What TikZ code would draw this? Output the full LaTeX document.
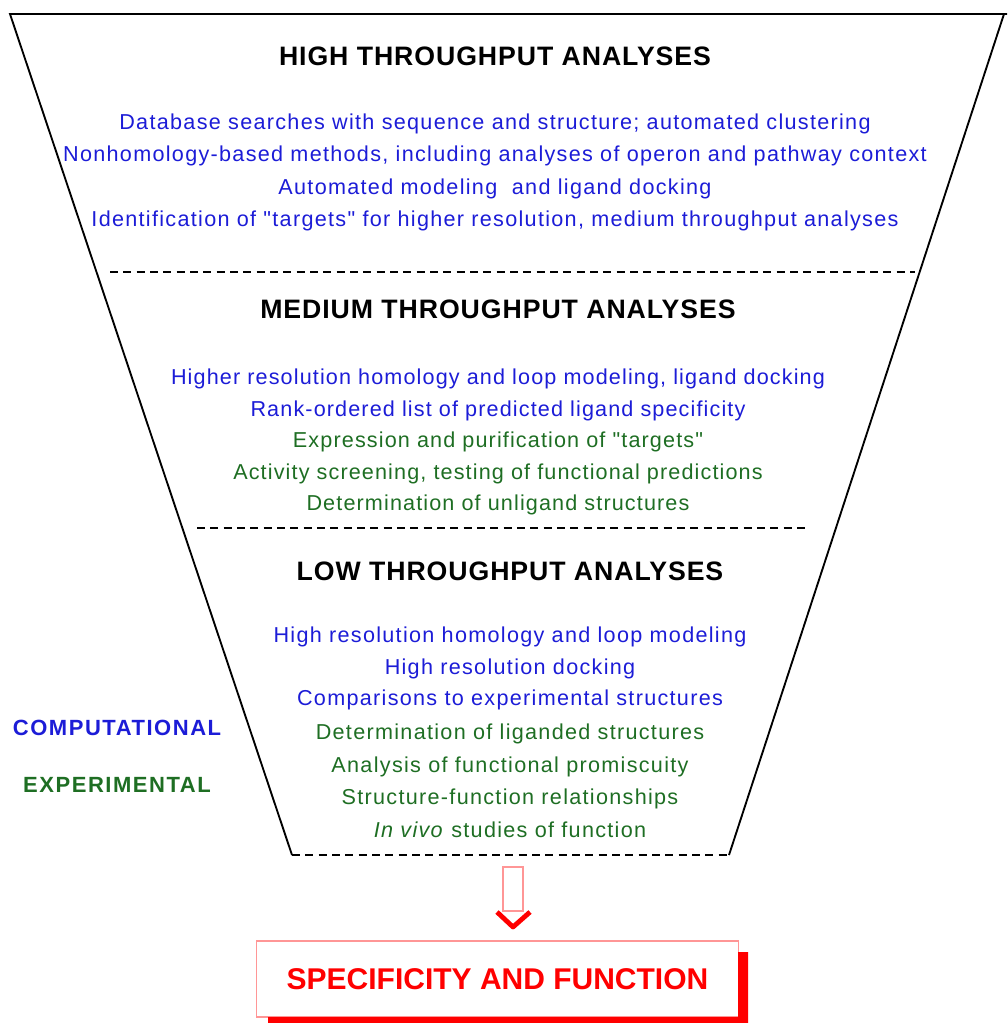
\documentclass[tikz,border=0pt]{standalone}
\usepackage{fontspec}
\setmainfont{Liberation Sans}
\newfontfamily\widefont[LetterSpace=6]{Liberation Sans}
\newfontfamily\medfont[LetterSpace=5.2]{Liberation Sans}
\newfontfamily\headfont[LetterSpace=3.5]{Liberation Sans}
\newfontfamily\sidefont[LetterSpace=7]{Liberation Sans}
\definecolor{compblue}{RGB}{28,28,215}
\definecolor{expgreen}{RGB}{30,110,35}
\definecolor{palered}{RGB}{255,150,150}
\tikzset{
  head/.style={font={\headfont\fontsize{20pt}{24pt}\selectfont\bfseries}, inner sep=0pt, anchor=base},
  comp/.style={font={\widefont\fontsize{16.2pt}{19pt}\selectfont}, inner sep=0pt, anchor=base, text=compblue},
  expt/.style={comp, text=expgreen},
  medcomp/.style={comp, font={\medfont\fontsize{16.2pt}{19pt}\selectfont}},
  medexpt/.style={medcomp, text=expgreen},
  side/.style={font={\sidefont\fontsize{16.5pt}{19pt}\selectfont\bfseries}, inner sep=0pt, anchor=base},
  divider/.style={line width=1pt, dash pattern=on 6pt off 4pt}}

\begin{document}
\begin{tikzpicture}[x=0.75pt,y=-0.75pt]
\useasboundingbox (0,0) rectangle (1007,1023);
\coordinate (tl) at (10,14);
\coordinate (te) at (1007,14);
\coordinate (tr) at (1004,14);
\coordinate (bl) at (292,855);
\coordinate (br) at (729,855);
\draw [line width=1.4pt] (te) -- (tl) -- (bl);
\draw [line width=1.4pt] (tr) -- (br);
\draw [divider] (bl) -- (br);
\draw [divider] (110,272) -- (915,272);
\draw [divider] (197,528) -- (808,528);
\node [head] (hhigh) at (495,65.5) {HIGH THROUGHPUT ANALYSES};
\node [comp] (h1) at (495,129.5) {Database searches with sequence and structure; automated clustering};
\node [comp] (h2) at (495,162) {Nonhomology-based methods, including analyses of operon and pathway context};
\node [comp] (h3) at (495,194.5) {Automated modeling\ \ and ligand docking};
\node [comp] (h4) at (495,227) {Identification of "targets" for higher resolution, medium throughput analyses};
\node [head] (hmed) at (498,318.5) {MEDIUM THROUGHPUT ANALYSES};
\node [medcomp] (m1) at (498,384.5) {Higher resolution homology and loop modeling, ligand docking};
\node [medcomp] (m2) at (498,416.5) {Rank-ordered list of predicted ligand specificity};
\node [medexpt] (m3) at (498,447.5) {Expression and purification of "targets"};
\node [medexpt] (m4) at (498,479.5) {Activity screening, testing of functional predictions};
\node [medexpt] (m5) at (498,510.5) {Determination of unligand structures};
\node [head] (hlow) at (510,580) {LOW THROUGHPUT ANALYSES};
\node [comp] (l1) at (510,642.5) {High resolution homology and loop modeling};
\node [comp] (l2) at (510,674.5) {High resolution docking};
\node [comp] (l3) at (510,705.5) {Comparisons to experimental structures};
\node [expt] (l4) at (510,739.5) {Determination of liganded structures};
\node [expt] (l5) at (510,772.5) {Analysis of functional promiscuity};
\node [expt] (l6) at (510,804.5) {Structure-function relationships};
\node [expt] (l7) at (510,837.5) {\textit{In vivo} studies of function};
\node [side, text=compblue] (computational) at (117,735) {COMPUTATIONAL};
\node [side, text=expgreen] (experimental) at (117,792) {EXPERIMENTAL};
\draw [palered, line width=0.8pt] (503,867) rectangle (523,911);
\draw [red, line width=3.6pt, line join=round] (497,912) -- (513,927) -- (530,912);
\node [draw=palered, line width=0.8pt, minimum width=361pt, minimum height=57pt, inner sep=0pt,
  font={\fontsize{22.5pt}{26pt}\selectfont\bfseries}, text=red] (result) at (497.5,979) {SPECIFICITY AND FUNCTION};
\fill [red] (738,952) -- (748,952) -- (748,1023) -- (268,1023) -- (268,1017) -- (738,1017) -- cycle;
\end{tikzpicture}
\end{document}
